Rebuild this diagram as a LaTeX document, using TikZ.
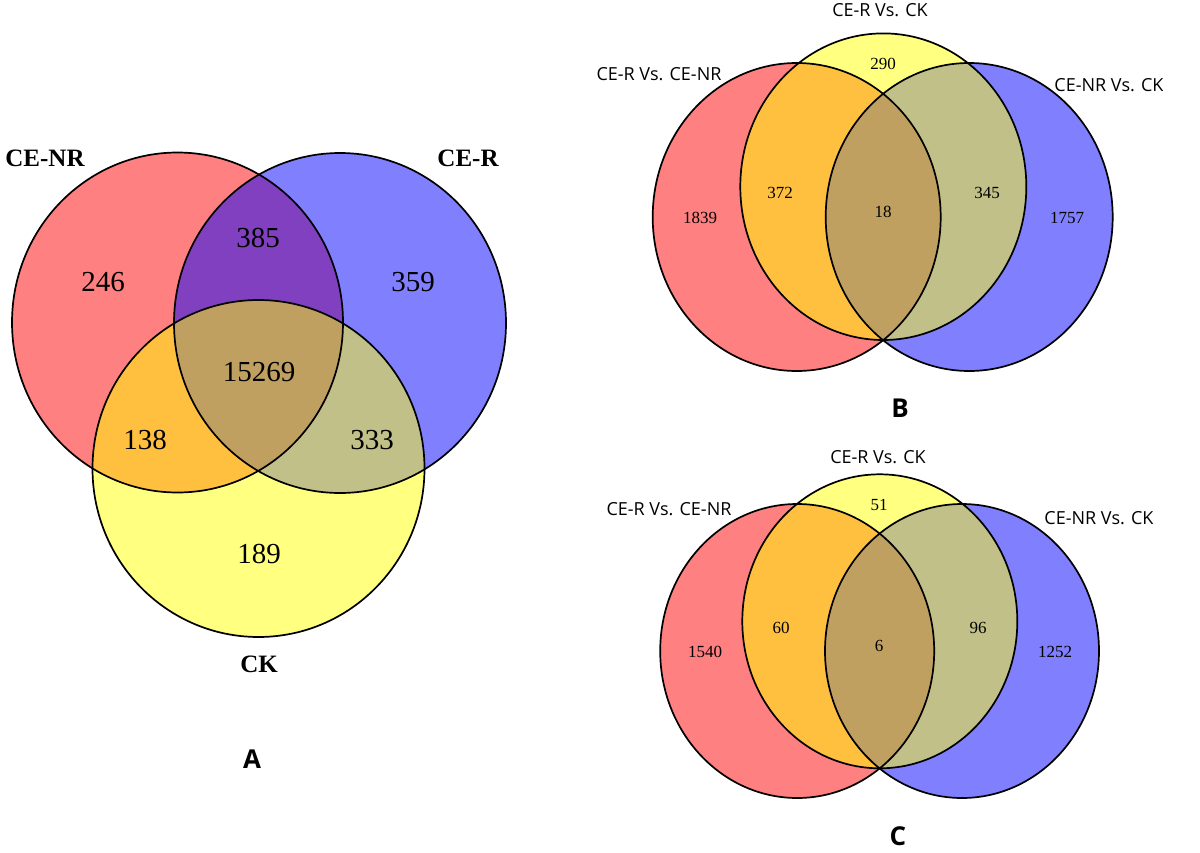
\documentclass[tikz,border=0pt]{standalone}
\usepackage{fontspec}
\setmainfont{Liberation Serif}
\newfontfamily\labelsans{Open Sans}
\definecolor{cred}{RGB}{255,128,128}
\definecolor{cblue}{RGB}{128,128,255}
\definecolor{cyel}{RGB}{255,255,128}
\definecolor{cpur}{RGB}{128,64,192}
\definecolor{corg}{RGB}{255,192,64}
\definecolor{coli}{RGB}{192,192,136}
\definecolor{ctri}{RGB}{192,160,96}
\tikzset{
  outline/.style={draw=black, line width=1.7pt},
  setA/.style={font=\bfseries\fontsize{25}{28}\selectfont, inner sep=0pt},
  numA/.style={font=\fontsize{29}{32}\selectfont, inner sep=0pt},
  numB/.style={font=\fontsize{17}{19}\selectfont, inner sep=0pt},
  cmpB/.style={font=\labelsans\fontsize{18}{20}\selectfont, inner sep=0pt},
  panel/.style={font=\labelsans\bfseries\fontsize{26}{28}\selectfont, inner sep=0pt}
}
\def\redA{(177.5,322.5) ellipse [x radius=165.5pt, y radius=170pt]}
\def\bluA{(340,323) ellipse [x radius=166pt, y radius=170pt]}
\def\yelA{(258.5,468.5) ellipse [x radius=166pt, y radius=168.5pt]}
\def\redB{(796.7,217) ellipse [x radius=144pt, y radius=154pt]}
\def\yelB{(883.3,186.7) ellipse [x radius=143pt, y radius=153.3pt]}
\def\bluB{(969.2,217) ellipse [x radius=143.5pt, y radius=154pt]}
\def\redC{(797.2,651) ellipse [x radius=137pt, y radius=147pt]}
\def\yelC{(879.8,621.3) ellipse [x radius=137.5pt, y radius=147pt]}
\def\bluC{(962,651) ellipse [x radius=137pt, y radius=147pt]}
\begin{document}
\begin{tikzpicture}[x=1pt,y=-1pt]
\useasboundingbox (0,0) rectangle (1200,852);
\fill[white] (0,0) rectangle (1200,852);
% ---------- A ----------
\fill[cred] \redA; \fill[cblue] \bluA; \fill[cyel] \yelA;
\begin{scope}\clip \redA; \fill[cpur] \bluA; \end{scope}
\begin{scope}\clip \redA; \fill[corg] \yelA; \end{scope}
\begin{scope}\clip \bluA; \fill[coli] \yelA; \end{scope}
\begin{scope}\clip \redA; \clip \bluA; \fill[ctri] \yelA; \end{scope}
\draw[outline] \redA; \draw[outline] \bluA; \draw[outline] \yelA;
% ---------- B ----------
\fill[cred] \redB; \fill[cblue] \bluB; \fill[cyel] \yelB;
\begin{scope}\clip \redB; \fill[corg] \yelB; \end{scope}
\begin{scope}\clip \bluB; \fill[coli] \yelB; \end{scope}
\begin{scope}\clip \redB; \clip \bluB; \fill[ctri] \yelB; \end{scope}
\draw[outline] \redB; \draw[outline] \bluB; \draw[outline] \yelB;
% ---------- C ----------
\fill[cred] \redC; \fill[cblue] \bluC; \fill[cyel] \yelC;
\begin{scope}\clip \redC; \fill[corg] \yelC; \end{scope}
\begin{scope}\clip \bluC; \fill[coli] \yelC; \end{scope}
\begin{scope}\clip \redC; \clip \bluC; \fill[ctri] \yelC; \end{scope}
\draw[outline] \redC; \draw[outline] \bluC; \draw[outline] \yelC;
% ---------- labels A ----------
\node[setA] (aNR) at (45,158) {CE-NR};
\node[setA] (aR) at (468,158) {CE-R};
\node[setA] (aCK) at (259,664) {CK};
\node[numA] (a1) at (103,282) {246};
\node[numA] (a2) at (258,238) {385};
\node[numA] (a3) at (413,282) {359};
\node[numA] (a4) at (259,372) {15269};
\node[numA] (a5) at (145,440) {138};
\node[numA] (a6) at (372,440) {333};
\node[numA] (a7) at (259,554) {189};
\node[panel] (pA) at (252,759) {A};
% ---------- labels B ----------
\node[cmpB] (bY) at (880,10) {CE-R Vs. CK};
\node[cmpB] (bR) at (659,74.5) {CE-R Vs. CE-NR};
\node[cmpB] (bB) at (1109,85) {CE-NR Vs. CK};
\node[numB] (b1) at (883,64) {290};
\node[numB] (b2) at (780,193) {372};
\node[numB] (b3) at (883,212) {18};
\node[numB] (b4) at (987,193) {345};
\node[numB] (b5) at (700,218) {1839};
\node[numB] (b6) at (1067,218) {1757};
\node[panel] (pB) at (900,408) {B};
% ---------- labels C ----------
\node[cmpB] (cY) at (878,457) {CE-R Vs. CK};
\node[cmpB] (cR) at (669,509.5) {CE-R Vs. CE-NR};
\node[cmpB] (cB) at (1099,518) {CE-NR Vs. CK};
\node[numB] (c1) at (879,505) {51};
\node[numB] (c2) at (781,628) {60};
\node[numB] (c3) at (879,646) {6};
\node[numB] (c4) at (978,628) {96};
\node[numB] (c5) at (705,652) {1540};
\node[numB] (c6) at (1055,652) {1252};
\node[panel] (pC) at (898,836) {C};
\end{tikzpicture}
\end{document}
